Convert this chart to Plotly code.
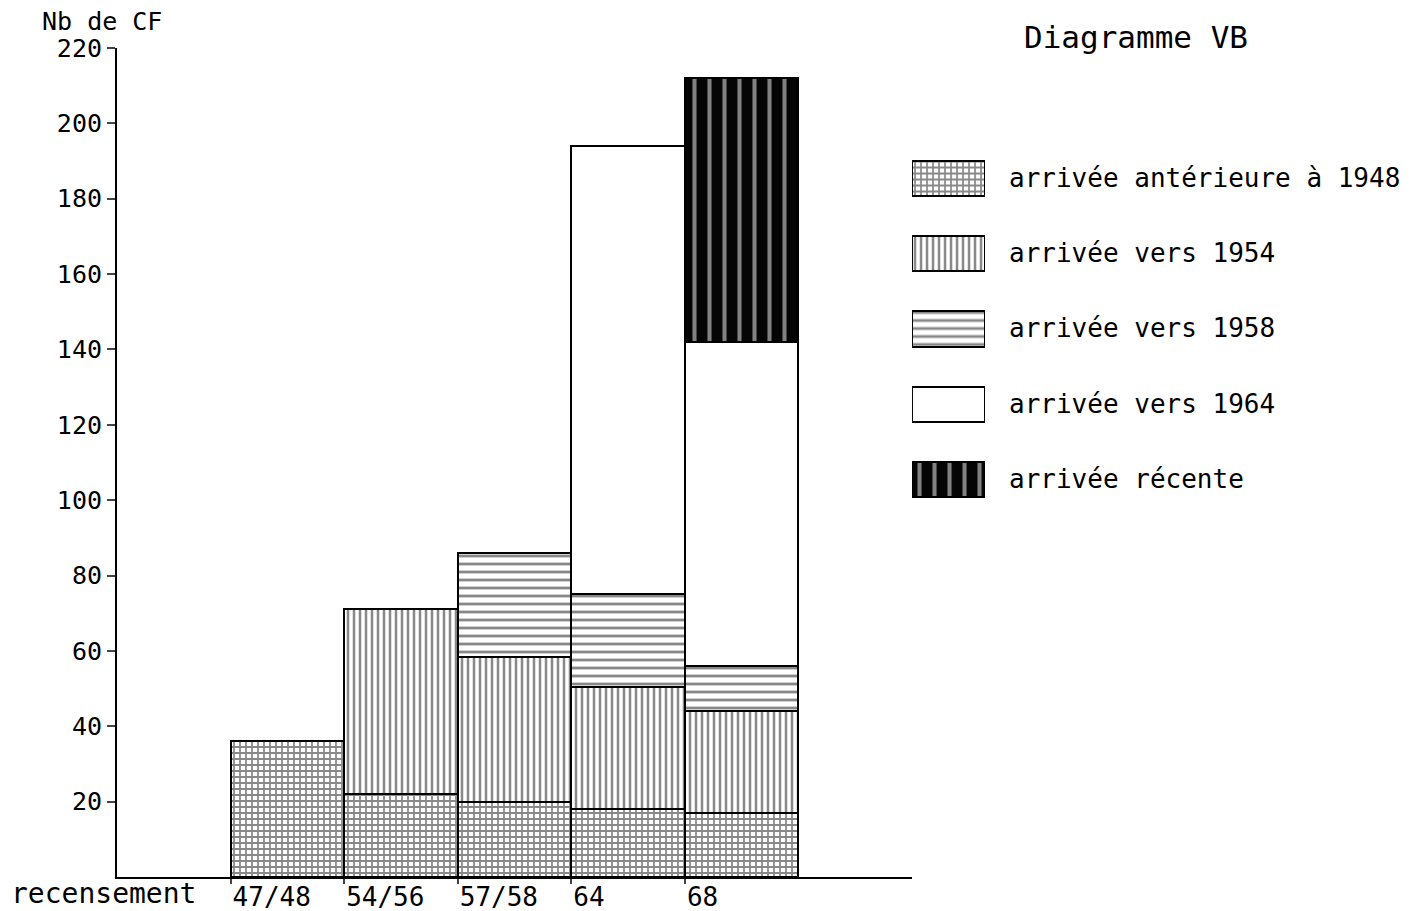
import plotly.graph_objects as go

# ---- data ----
census = ["47/48", "54/56", "57/58", "64", "68"]
series_names = [
    "arrivée antérieure à 1948",
    "arrivée vers 1954",
    "arrivée vers 1958",
    "arrivée vers 1964",
    "arrivée récente",
]
anterieure_1948 = [36, 22, 20, 18, 17]
vers_1954 = [None, 49, 38.5, 32.5, 27]
vers_1958 = [None, None, 27.5, 24.5, 12]
vers_1964 = [None, None, None, 119, 86]
recente = [None, None, None, None, 70]
y_ticks = [20, 40, 60, 80, 100, 120, 140, 160, 180, 200, 220]

FONT = "DejaVu Sans Mono"

styles = [
    dict(color="white", pattern=dict(shape="+", fgcolor="#111111", size=6, solidity=0.5, fillmode="overlay")),
    dict(color="white", pattern=dict(shape="|", fgcolor="#111111", size=6, solidity=0.42, fillmode="overlay")),
    dict(color="white", pattern=dict(shape="-", fgcolor="#111111", size=8, solidity=0.35, fillmode="overlay")),
    dict(color="white"),
    dict(color="#050505", pattern=dict(shape="|", fgcolor="white", size=15, solidity=0.27, fillmode="overlay")),
]
values = [anterieure_1948, vers_1954, vers_1958, vers_1964, recente]

fig = go.Figure()
xpos = list(range(len(census)))
for name, vals, st in zip(series_names, values, styles):
    fig.add_trace(go.Bar(
        x=xpos, y=vals, name=name, width=1, offset=0,
        marker=dict(**st, line=dict(color="black", width=2)),
        showlegend=False, xaxis="x", yaxis="y",
    ))

# legend swatches as horizontal bars on a side axis
for i, (name, st) in enumerate(zip(series_names, styles)):
    fig.add_trace(go.Bar(
        x=[1], y=[i], orientation="h", width=0.47, name=name,
        marker=dict(**st, line=dict(color="black", width=2)),
        showlegend=False, xaxis="x2", yaxis="y2", hoverinfo="skip",
    ))

annotations = []
for i, name in enumerate(series_names):
    annotations.append(dict(
        x=0.6878, xref="paper", y=i, yref="y2", text=name, showarrow=False,
        xanchor="left", yanchor="middle", font=dict(family=FONT, size=26, color="black"),
    ))
annotations += [
    dict(x=-0.0595, xref="paper", y=1.0315, yref="paper", text="Nb de CF", showarrow=False,
         xanchor="left", yanchor="middle", font=dict(family=FONT, size=25, color="black")),
    dict(x=0.6994, xref="paper", y=1.0133, yref="paper", text="Diagramme VB", showarrow=False,
         xanchor="left", yanchor="middle", font=dict(family=FONT, size=31, color="black")),
    dict(x=-0.0835, xref="paper", y=-0.0205, yref="paper", text="recensement", showarrow=False,
         xanchor="left", yanchor="middle", font=dict(family=FONT, size=28, color="black")),
]

fig.update_layout(
    width=1413, height=903,
    margin=dict(l=109, r=10, t=40, b=34, autoexpand=False),
    paper_bgcolor="white", plot_bgcolor="white",
    barmode="stack", bargap=0,
    font=dict(family=FONT, size=26, color="black"),
    xaxis=dict(domain=[0, 0.6144], range=[-1, 6], tickvals=xpos, ticktext=census,
               ticklabelposition="outside right", ticks="outside", ticklen=5, tickwidth=2,
               ticklabelstandoff=-4,
               showline=True, linecolor="black", linewidth=2, showgrid=False, zeroline=False,
               automargin=False, tickfont=dict(family=FONT, size=26)),
    yaxis=dict(range=[0, 220], tickvals=y_ticks, ticks="outside", ticklen=8, tickwidth=2,
               showline=True, linecolor="black", linewidth=2, showgrid=False, zeroline=False,
               automargin=False, tickfont=dict(family=FONT, size=25)),
    xaxis2=dict(domain=[0.6144, 0.6708], range=[0, 1], visible=False, anchor="y2"),
    yaxis2=dict(domain=[0.4349, 0.8884], range=[4.5, -0.5], visible=False, anchor="x2"),
    annotations=annotations,
)

fig.write_html("out.html")
